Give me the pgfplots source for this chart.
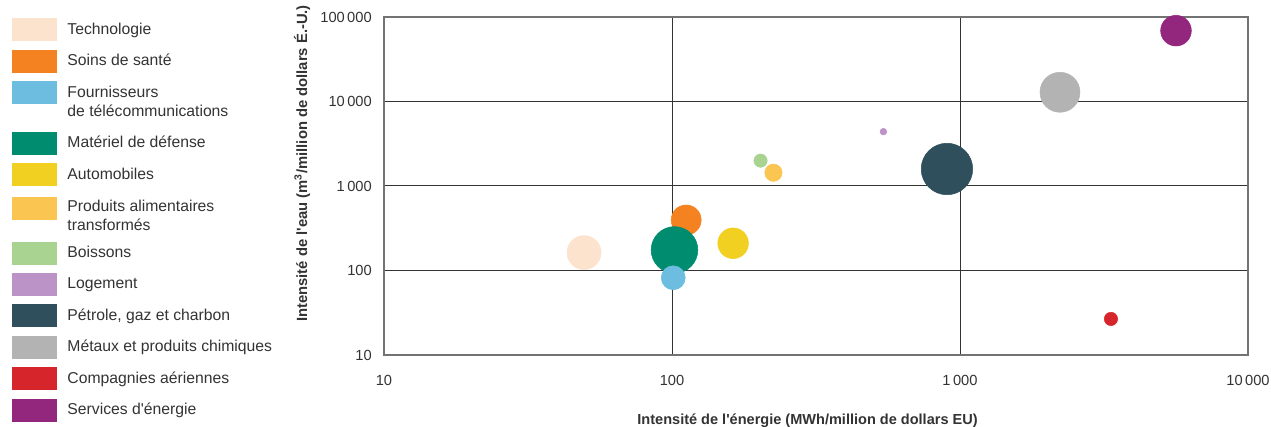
\documentclass[border=0pt]{standalone}
\usepackage{fontspec}
\setmainfont{Liberation Sans}
\usepackage{pgfplots}
\pgfplotsset{compat=1.18}
\definecolor{cTech}{HTML}{FBE3CE}
\definecolor{cSoin}{HTML}{F58220}
\definecolor{cTel}{HTML}{6CBDE0}
\definecolor{cDef}{HTML}{008C6E}
\definecolor{cAuto}{HTML}{F2D022}
\definecolor{cProd}{HTML}{FBC552}
\definecolor{cBois}{HTML}{A8D391}
\definecolor{cLog}{HTML}{BC93C6}
\definecolor{cPet}{HTML}{2F4F5C}
\definecolor{cMet}{HTML}{B3B3B3}
\definecolor{cAir}{HTML}{D7262B}
\definecolor{cEne}{HTML}{93267D}
\definecolor{txt}{HTML}{333333}
\begin{document}
\begin{tikzpicture}
\path[use as bounding box] (0,0) rectangle (953.25pt,320.25pt);
\begin{axis}[
  at={(288pt,54pt)}, anchor=south west,
  scale only axis, width=648pt, height=253.5pt,
  xmode=log, ymode=log,
  xmin=10, xmax=10000, ymin=10, ymax=100000,
  xtick={10,100,1000,10000},
  xticklabels={10,100,1\,000,10\,000},
  ytick={10,100,1000,10000,100000},
  yticklabels={10,100,1\,000,10\,000,100\,000},
  major tick length=0pt, minor tick length=0pt,
  grid=major,
  major grid style={draw=black!80, line width=0.75pt},
  axis line style={draw=black!55, line width=0.9pt},
  clip=false,
  /pgf/number format/assume math mode=true,
  ticklabel style={font=\fontsize{11}{13}\selectfont, text=txt},
  xticklabel style={anchor=north, inner sep=0pt, yshift=-14.8pt},
  yticklabel style={anchor=east, inner sep=0pt, xshift=-9pt},
  xlabel={Intensité de l\textquotesingle énergie (MWh/million de dollars EU)},
  xlabel style={at={(axis description cs:0.4902,-0.205)}, anchor=base,
    font=\bfseries\fontsize{10.9}{13}\selectfont, text=txt},
  ylabel={Intensité de l\textquotesingle eau (m\textsuperscript{3}/million de dollars É.-U.)},
  ylabel style={at={(axis description cs:-0.0949,0.5666)}, anchor=center,
    font=\bfseries\fontsize{11.1}{13}\selectfont, text=txt},
  legend style={at={(axis description cs:-0.4306,0.9962)}, anchor=north west,
    draw=none, fill=none, inner sep=0pt, outer sep=0pt,
    row sep=6.7pt, column sep=8.25pt,
    cells={anchor=west, align=left},
    nodes={inner sep=0pt, text=txt, font=\fontsize{11.8}{14.25}\selectfont}},
]
% bubbles (drawing order chosen for overlaps)
\addplot[forget plot, only marks, mark=*, color=cTech, mark size=12.75pt] coordinates {(49.5,163)};
\addplot[forget plot, only marks, mark=*, color=cSoin, mark size=11.25pt] coordinates {(112,396)};
\addplot[forget plot, only marks, mark=*, color=cDef, mark size=17.5pt] coordinates {(102,175)};
\addplot[forget plot, only marks, mark=*, color=cTel, mark size=9pt] coordinates {(101,82)};
\addplot[forget plot, only marks, mark=*, color=cAuto, mark size=11.5pt] coordinates {(163,210)};
\addplot[forget plot, only marks, mark=*, color=cProd, mark size=6.5pt] coordinates {(225,1436)};
\addplot[forget plot, only marks, mark=*, color=cBois, mark size=5pt] coordinates {(203,1995)};
\addplot[forget plot, only marks, mark=*, color=cLog, mark size=2.5pt] coordinates {(542,4395)};
\addplot[forget plot, only marks, mark=*, color=cPet, mark size=19.3pt] coordinates {(901,1589)};
\addplot[forget plot, only marks, mark=*, color=cMet, mark size=15pt] coordinates {(2224,12850)};
\addplot[forget plot, only marks, mark=*, color=cAir, mark size=5pt] coordinates {(3343,26.7)};
\addplot[forget plot, only marks, mark=*, color=cEne, mark size=11.5pt] coordinates {(5623,68870)};
% legend
\addlegendimage{legend image code/.code={\fill[cTech] (0pt,-8.25pt) rectangle (33pt,8.25pt);}}
\addlegendentry{Technologie}
\addlegendimage{legend image code/.code={\fill[cSoin] (0pt,-8.25pt) rectangle (33pt,8.25pt);}}
\addlegendentry{Soins de santé}
\addlegendimage{legend image code/.code={\fill[cTel] (0pt,-1.125pt) rectangle (33pt,15.375pt); \path (0pt,-15.375pt);}}
\addlegendentry{Fournisseurs\\de télécommunications}
\addlegendimage{legend image code/.code={\fill[cDef] (0pt,-8.25pt) rectangle (33pt,8.25pt);}}
\addlegendentry{Matériel de défense}
\addlegendimage{legend image code/.code={\fill[cAuto] (0pt,-8.25pt) rectangle (33pt,8.25pt);}}
\addlegendentry{Automobiles}
\addlegendimage{legend image code/.code={\fill[cProd] (0pt,-4.15pt) rectangle (33pt,12.35pt); \path (0pt,-14.25pt);}}
\addlegendentry{\rule{0pt}{12.35pt}Produits alimentaires\\transformés}
\addlegendimage{legend image code/.code={\fill[cBois] (0pt,-8.25pt) rectangle (33pt,8.25pt);}}
\addlegendentry{Boissons}
\addlegendimage{legend image code/.code={\fill[cLog] (0pt,-8.25pt) rectangle (33pt,8.25pt);}}
\addlegendentry{Logement}
\addlegendimage{legend image code/.code={\fill[cPet] (0pt,-8.25pt) rectangle (33pt,8.25pt);}}
\addlegendentry{Pétrole, gaz et charbon}
\addlegendimage{legend image code/.code={\fill[cMet] (0pt,-8.25pt) rectangle (33pt,8.25pt);}}
\addlegendentry{Métaux et produits chimiques}
\addlegendimage{legend image code/.code={\fill[cAir] (0pt,-8.25pt) rectangle (33pt,8.25pt);}}
\addlegendentry{Compagnies aériennes}
\addlegendimage{legend image code/.code={\fill[cEne] (0pt,-8.25pt) rectangle (33pt,8.25pt);}}
\addlegendentry{Services d\textquotesingle énergie}
\end{axis}
\end{tikzpicture}
\end{document}
